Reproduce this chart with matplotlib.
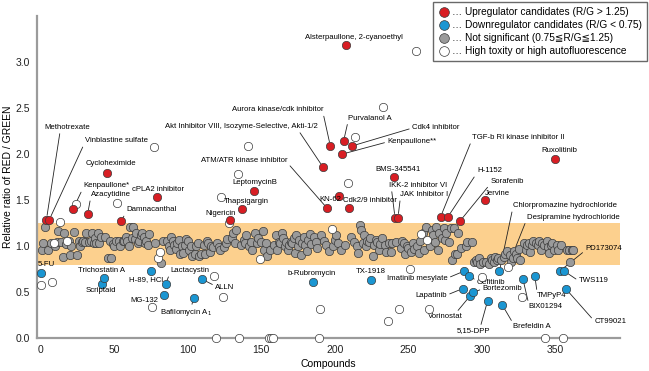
import numpy as np
import matplotlib
matplotlib.use("Agg")
import matplotlib.pyplot as plt
from matplotlib.lines import Line2D

plt.rcParams["font.family"] = ["Liberation Sans", "DejaVu Sans"]

# --- data (compound index, R/G ratio) ---
# Upregulator candidates (R/G > 1.25)
red_names = ["Methotrexate", "Vinblastine sulfate", "Kenpaullone*", "Azacytidine",
             "Cycloheximide", "Damnacanthal", "cPLA2 inhibitor", "Nigericin",
             "Thapsigargin", "LeptomycinB",
             "Akt Inhibitor VIII, Isozyme-Selective, Akti-1/2",
             "ATM/ATR kinase inhibitor", "Aurora kinase/cdk inhibitor", "KN-62",
             "Kenpaullone**", "Purvalanol A", "Alsterpaullone, 2-cyanoethyl",
             "Cdk2/9 inhibitor", "Cdk4 inhibitor", "BMS-345541",
             "IKK-2 inhibitor VI", "JAK Inhibitor I",
             "TGF-b RI kinase inhibitor II", "H-1152", "Sorafenib", "Jervine",
             "Ruxolitinib"]
red_x = [4, 6, 22, 32, 45, 55, 79, 129, 137, 145, 192, 195, 197, 203, 205, 206,
         208, 210, 212, 240, 241, 243, 272, 277, 285, 302, 350]
red_y = [1.29, 1.29, 1.40, 1.35, 1.80, 1.27, 1.53, 1.28, 1.40, 1.60, 1.86, 1.41,
         2.09, 1.55, 2.00, 2.14, 3.18, 1.41, 2.09, 1.75, 1.31, 1.31, 1.32, 1.32,
         1.27, 1.50, 1.95]

# Downregulator candidates (R/G < 0.75)
blue_names = ["5-FU", "Scriptaid", "Trichostatin A", "H-89, HCl", "MG-132",
              "Lactacystin", "Bafilomycin A$_1$", "ALLN", "b-Rubromycin",
              "TX-1918", "Lapatinib", "Imatinib mesylate", "Gefitinib",
              "Vorinostat", "Bortezomib", "5,15-DPP",
              "Chlorpromazine hydrochloride", "Brefeldin A", "BIX01294",
              "TMPyP4", "PD173074", "TWS119", "CT99021"]
blue_x = [0, 42, 43, 75, 84, 85, 104, 110, 185, 225, 287, 288, 291, 292, 294,
          304, 312, 314, 328, 336, 353, 356, 357]
blue_y = [0.71, 0.59, 0.65, 0.73, 0.47, 0.59, 0.44, 0.64, 0.61, 0.63, 0.54,
          0.73, 0.68, 0.46, 0.50, 0.41, 0.73, 0.36, 0.64, 0.68, 0.73, 0.73, 0.54]

# High toxicity or high autofluorescence
white_x = [0, 8, 9, 13, 18, 24, 52, 77, 80, 81, 76, 118, 119, 123, 124, 128,
           134, 135, 141, 149, 155, 157, 158, 189, 190, 198, 209, 214, 233, 236,
           244, 251, 255, 259, 263, 264, 300, 318, 327, 343, 355]
white_y = [0.58, 0.61, 1.04, 1.26, 1.06, 1.46, 1.47, 2.08, 0.87, 0.94, 0.34,
           0.68, 0.0, 1.54, 0.45, 1.25, 1.78, 0.0, 2.09, 0.86, 0.0, 0.0, 0.0,
           0.0, 0.32, 1.19, 1.69, 2.19, 2.51, 0.19, 0.32, 0.75, 3.12, 1.13, 1.07,
           0.32, 0.67, 0.77, 0.45, 0.0, 0.0]

# Not significant: one value per compound index 0..362 (hidden where another class sits)
gray_y = [
    1.02, 0.96, 1.04, 1.21, 1.00, 0.96, 1.21, 1.04, 0.96, 0.96,
    1.00, 1.05, 1.17, 1.08, 1.05, 0.88, 1.14, 1.02, 1.06, 1.06,
    0.90, 1.00, 1.08, 1.15, 1.00, 0.90, 1.06, 1.00, 1.05, 1.06,
    1.05, 1.14, 1.08, 1.05, 1.06, 1.14, 1.04, 1.09, 1.03, 1.14,
    1.04, 1.10, 1.02, 1.06, 1.10, 1.14, 0.87, 1.06, 0.87, 1.02,
    1.00, 1.06, 1.10, 1.06, 1.00, 1.09, 1.06, 1.06, 1.10, 1.06,
    1.00, 1.21, 1.09, 1.21, 1.08, 1.14, 1.04, 1.06, 1.12, 1.14,
    1.10, 1.03, 1.06, 1.01, 1.13, 1.00, 1.10, 1.22, 1.04, 1.06,
    1.10, 1.00, 0.82, 1.06, 1.12, 1.03, 1.06, 1.00, 0.96, 1.10,
    1.06, 1.01, 0.97, 1.03, 1.07, 0.92, 1.00, 0.93, 1.01, 1.08,
    1.06, 0.96, 1.00, 0.89, 0.86, 0.92, 1.00, 1.03, 0.89, 0.92,
    1.00, 1.01, 0.92, 1.06, 1.03, 0.94, 1.00, 0.99, 0.92, 0.96,
    1.03, 0.99, 0.96, 1.05, 0.92, 0.99, 1.03, 1.08, 1.00, 1.06,
    1.09, 1.14, 1.03, 1.18, 0.94, 1.09, 1.01, 0.96, 1.07, 1.03,
    1.12, 1.16, 1.00, 1.05, 0.96, 1.11, 1.14, 1.03, 1.09, 0.92,
    1.05, 1.16, 0.96, 1.03, 0.89, 1.07, 0.96, 1.05, 0.87, 1.01,
    1.12, 0.96, 1.05, 1.03, 1.14, 1.09, 1.00, 1.05, 0.96, 1.01,
    1.05, 1.03, 1.09, 0.93, 1.12, 1.00, 1.07, 0.90, 1.04, 1.10,
    1.01, 0.95, 1.07, 1.13, 1.02, 0.94, 1.10, 1.05, 0.98, 1.08,
    1.03, 1.12, 0.97, 1.06, 1.01, 1.10, 0.95, 1.04, 1.09, 1.00,
    1.07, 1.12, 1.03, 1.14, 0.96, 1.09, 0.89, 1.01, 1.10, 1.05,
    1.02, 1.10, 0.96, 1.05, 1.09, 1.00, 0.93, 1.23, 1.18, 1.03,
    1.12, 1.00, 1.06, 1.05, 1.09, 0.96, 0.89, 1.01, 1.07, 1.05,
    0.96, 1.02, 1.09, 1.12, 1.01, 0.94, 0.98, 1.04, 0.94, 1.03,
    0.98, 0.94, 1.05, 1.09, 0.89, 0.98, 1.06, 1.03, 0.92, 1.00,
    0.98, 0.87, 0.94, 1.04, 0.97, 1.10, 1.00, 0.93, 1.06, 1.01,
    1.14, 0.96, 1.21, 1.07, 1.14, 1.00, 1.18, 1.12, 1.05, 1.21,
    0.96, 1.14, 1.07, 1.09, 1.20, 1.07, 1.14, 1.09, 1.05, 1.20,
    0.85, 1.20, 0.92, 0.92, 1.14, 0.85, 0.98, 1.05, 0.83, 1.00,
    1.05, 0.83, 0.85, 1.05, 0.88, 0.83, 0.85, 0.83, 0.87, 0.81,
    0.89, 0.83, 0.85, 0.83, 0.85, 0.81, 0.87, 0.85, 0.83, 0.88,
    0.85, 0.87, 0.92, 0.85, 0.83, 0.88, 0.92, 0.95, 0.85, 0.90,
    0.83, 0.87, 0.95, 0.92, 0.87, 0.97, 0.85, 0.95, 1.00, 1.03,
    0.96, 1.01, 1.04, 0.94, 1.01, 1.06, 0.98, 1.03, 1.01, 1.06,
    0.96, 1.03, 1.01, 0.96, 1.06, 0.99, 0.93, 1.01, 1.03, 0.96,
    0.99, 1.01, 0.96, 0.90, 1.01, 0.96, 0.99, 0.96, 0.96, 0.96,
    0.83, 0.96, 0.96,
]
gray_label = ("Desipramine hydrochloride", 322)

# label layout: name -> (text x, text y, ha, leader relpos or None)
label_pos = {
    "Alsterpaullone, 2-cyanoethyl": (213, 3.27, "center", None),
    "Aurora kinase/cdk inhibitor": (161, 2.48, "center", (1.0, 0.0)),
    "Purvalanol A": (209, 2.39, "left", (0.0, 0.0)),
    "Cdk4 inhibitor": (252.5, 2.29, "left", (0.0, 0.4)),
    "Kenpaullone**": (235.7, 2.14, "left", (0.0, 0.4)),
    "Akt Inhibitor VIII, Isozyme-Selective, Akti-1/2": (136.7, 2.30, "center", (0.87, 0.0)),
    "ATM/ATR kinase inhibitor": (138.3, 1.93, "center", (1.0, 0.2)),
    "BMS-345541": (227.6, 1.83, "left", None),
    "IKK-2 inhibitor VI": (236.6, 1.66, "left", (0.05, 0.0)),
    "JAK Inhibitor I": (244.6, 1.56, "left", (0.0, 0.0)),
    "KN-62": (197.3, 1.51, "center", None),
    "Cdk2/9 inhibitor": (223.8, 1.50, "center", None),
    "LeptomycinB": (145.7, 1.69, "center", None),
    "Thapsigargin": (139.7, 1.485, "center", None),
    "Nigericin": (122.7, 1.36, "center", None),
    "Methotrexate": (18, 2.29, "center", (0.35, 0.0)),
    "Vinblastine sulfate": (51.6, 2.145, "center", (0.0, 0.3)),
    "Cycloheximide": (47.6, 1.90, "center", None),
    "Kenpaullone*": (29.1, 1.655, "left", (0.0, 0.3)),
    "Azacytidine": (47.6, 1.56, "center", (0.0, 0.0)),
    "cPLA2 inhibitor": (79.8, 1.62, "center", None),
    "Damnacanthal": (58.2, 1.395, "left", (0.0, 0.3)),
    "TGF-b RI kinase inhibitor II": (293.3, 2.18, "left", (0.0, 0.2)),
    "H-1152": (296.7, 1.82, "left", (0.0, 0.2)),
    "Sorafenib": (305.8, 1.70, "left", (0.0, 0.2)),
    "Jervine": (310.5, 1.575, "center", None),
    "Ruxolitinib": (352.6, 2.04, "center", None),
    "Chlorpromazine hydrochloride": (321.2, 1.44, "left", (0.0, 0.3)),
    "Desipramine hydrochloride": (330.7, 1.315, "left", (0.0, 0.3)),
    "PD173074": (370.4, 0.97, "left", (0.0, 0.3)),
    "TWS119": (365.9, 0.624, "left", (0.0, 0.5)),
    "CT99021": (376.5, 0.188, "left", (0.0, 0.5)),
    "TMPyP4": (337.6, 0.463, "left", (0.0, 1.0)),
    "BIX01294": (331.8, 0.343, "left", (0.0, 1.0)),
    "Brefeldin A": (321.2, 0.126, "left", (0.0, 1.0)),
    "5,15-DPP": (294.4, 0.083, "center", (0.7, 1.0)),
    "Vorinostat": (275.2, 0.235, "center", (0.8, 1.0)),
    "Bortezomib": (300.5, 0.536, "left", (0.0, 0.5)),
    "Gefitinib": (296.7, 0.61, "left", (0.0, 0.7)),
    "Lapatinib": (276.3, 0.47, "right", (1.0, 0.5)),
    "Imatinib mesylate": (235.5, 0.655, "left", (1.0, 0.5)),
    "TX-1918": (224.7, 0.724, "center", None),
    "b-Rubromycin": (184.5, 0.706, "center", None),
    "ALLN": (118.7, 0.554, "left", (0.0, 0.7)),
    "Bafilomycin A$_1$": (99, 0.28, "center", (0.6, 1.0)),
    "MG-132": (80.1, 0.41, "right", (1.0, 0.5)),
    "Lactacystin": (88.1, 0.735, "left", (0.0, 0.2)),
    "H-89, HCl": (71.6, 0.634, "center", None),
    "Trichostatin A": (41.6, 0.735, "center", None),
    "Scriptaid": (40.8, 0.514, "center", None),
    "5-FU": (-1.9, 0.80, "left", None),
}

RED = "#d81e24"
BLUE = "#1b96d2"
GRAY = "#9a9a9a"
EDGE = "#3a3a3a"
BAND = "#fcd08e"


def main():
    fig = plt.figure(figsize=(6.49, 3.71), dpi=100)
    ax = fig.add_axes([0.0566, 0.0881, 0.8988, 0.8687])

    ax.axhspan(0.8, 1.25, color=BAND, lw=0, zorder=0)

    used = set(red_x) | set(blue_x) | set(white_x)
    gx = [i for i in range(len(gray_y)) if i not in used]
    gy = [gray_y[i] for i in gx]

    kw = dict(s=36, edgecolors=EDGE, linewidths=0.5, clip_on=False)
    ax.scatter(gx, gy, c=GRAY, zorder=3, **kw)
    ax.scatter(white_x, white_y, c="white", zorder=4, **kw)
    ax.scatter(red_x, red_y, c=RED, zorder=5, **kw)
    ax.scatter(blue_x, blue_y, c=BLUE, zorder=5, **kw)

    points = {n: (x, y) for n, x, y in zip(red_names, red_x, red_y)}
    points.update({n: (x, y) for n, x, y in zip(blue_names, blue_x, blue_y)})
    points[gray_label[0]] = (gray_label[1], gray_y[gray_label[1]])

    for name, (tx, ty, ha, rel) in label_pos.items():
        px, py = points[name]
        if rel is None:
            ax.text(tx, ty, name, fontsize=5.6, ha=ha, va="center", zorder=6)
        else:
            ax.annotate(name, xy=(px, py), xytext=(tx, ty), fontsize=5.6,
                        ha=ha, va="center", zorder=2,
                        arrowprops=dict(arrowstyle="-", lw=0.6, color="#222",
                                        shrinkA=0, shrinkB=3, relpos=rel))

    ax.set_xlim(-2.6, 394)
    ax.set_ylim(0, 3.5)
    ax.set_xticks([0, 50, 100, 150, 200, 250, 300, 350])
    ax.set_yticks([0.0, 0.5, 1.0, 1.5, 2.0, 2.5, 3.0])
    ax.set_yticklabels([f"{v:.1f}" for v in ax.get_yticks()])
    ax.tick_params(length=0, labelsize=7.5, colors="#222", pad=5)
    for side in ["top", "right"]:
        ax.spines[side].set_visible(False)
    for side in ["left", "bottom"]:
        ax.spines[side].set_color("#9b9b9b")
        ax.spines[side].set_linewidth(1.6)
    ax.set_xlabel("Compounds", fontsize=7.5, labelpad=3)
    ax.set_ylabel("Relative ratio of RED / GREEN", fontsize=7.5, labelpad=2)

    handles = [Line2D([], [], ls="", marker="o", ms=7, mfc=c, mec=EDGE, mew=0.5)
               for c in [RED, BLUE, GRAY, "white"]]
    labels = ["\u2026 Upregulator candidates (R/G > 1.25)",
              "\u2026 Downregulator candidates (R/G < 0.75)",
              "\u2026 Not significant (0.75\u2266R/G\u22661.25)",
              "\u2026 High toxity or high autofluorescence"]
    leg = fig.legend(handles, labels, loc="upper right",
                     bbox_to_anchor=(1.0, 1.0), fontsize=7.3,
                     frameon=True, fancybox=False, edgecolor="#444",
                     handletextpad=0.15, handlelength=1.2, labelspacing=0.3,
                     borderpad=0.5, borderaxespad=0.2)
    leg.get_frame().set_linewidth(1.0)

    fig.savefig("out.png", dpi=100)
    plt.close(fig)


if __name__ == "__main__":
    main()
